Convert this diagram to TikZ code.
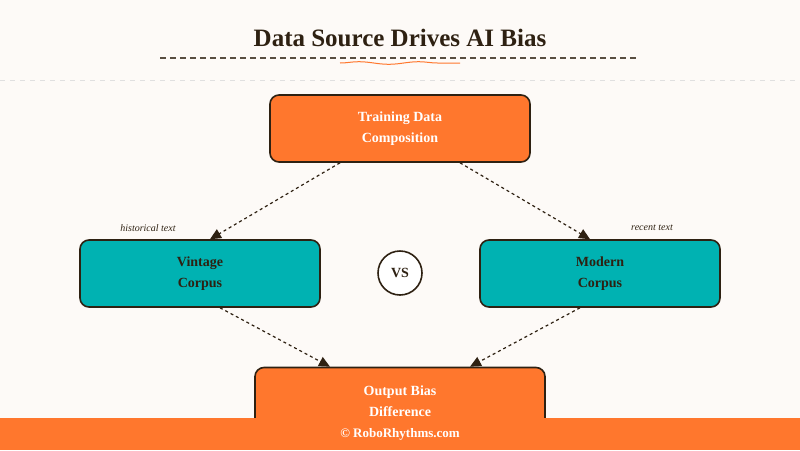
\documentclass[tikz,border=0pt]{standalone}
\usepackage{fontspec}
\setmainfont{Liberation Serif}
\usetikzlibrary{positioning,arrows.meta,decorations.pathmorphing}
\definecolor{bgcol}{HTML}{FDFAF7}
\definecolor{orng}{HTML}{FF772D}
\definecolor{teal}{HTML}{00B2B2}
\definecolor{ink}{HTML}{2E2112}
\tikzset{
  box/.style={draw=ink,line width=1.6pt,rounded corners=9pt,minimum width=#1,minimum height=67pt,align=center,font=\bfseries\fontsize{14}{21}\selectfont},
  hot/.style={box=260pt,fill=orng,text=white},
  cool/.style={box=240pt,fill=teal,text=ink},
  flow/.style={-{Triangle[length=11pt,width=10pt]},dashed,line width=1.2pt,draw=ink},
  tag/.style={font=\itshape\fontsize{10}{12}\selectfont,text=ink}
}
\begin{document}
\begin{tikzpicture}[x=1pt,y=-1pt]
  \fill[bgcol] (0,0) rectangle (800,450);
  \useasboundingbox (0,0) rectangle (800,450);
  % title
  \node[font=\bfseries\fontsize{25}{30}\selectfont,text=ink] (title) at (400,38) {Data Source Drives AI Bias};
  \draw[ink!80,dashed,line width=1.2pt,dash pattern=on 6pt off 4pt] (160,58) -- (636,58);
  \draw[orng,line width=1pt,decorate,decoration={snake,amplitude=1.3pt,segment length=60pt}] (340,63) -- (460,63);
  \draw[black!12,line width=1pt,dash pattern=on 5pt off 5pt] (0,80) -- (800,80);
  % nodes
  \node[hot] (train) at (400,128.5) {Training Data\\Composition};
  \node[cool] (vint) at (200,273.5) {Vintage\\Corpus};
  \node[cool] (mod) at (600,273.5) {Modern\\Corpus};
  \node[draw=ink,line width=1.6pt,circle,minimum size=44pt,fill=white,font=\bfseries\fontsize{14}{16}\selectfont,text=ink] (vs) at (400,273) {VS};
  \node[box=290pt,fill=orng,text=white] (out) at (400,401) {Output Bias\\Difference};
  % edges
  \draw[flow] (train.south) ++(-60,0) -- ([xshift=10pt]vint.north);
  \draw[flow] (train.south) ++(60,0) -- ([xshift=-10pt]mod.north);
  \draw[flow] ([xshift=20pt]vint.south) -- ([xshift=-70pt]out.north);
  \draw[flow] ([xshift=-20pt]mod.south) -- ([xshift=70pt]out.north);
  \node[tag] (lh) at (148,228) {historical text};
  \node[tag] (lr) at (652,228) {recent text};
  % footer
  \fill[orng] (0,418) rectangle (800,450);
  \node[text=white,font=\bfseries\fontsize{13}{15}\selectfont] (foot) at (400,434) {© RoboRhythms.com};
\end{tikzpicture}
\end{document}
